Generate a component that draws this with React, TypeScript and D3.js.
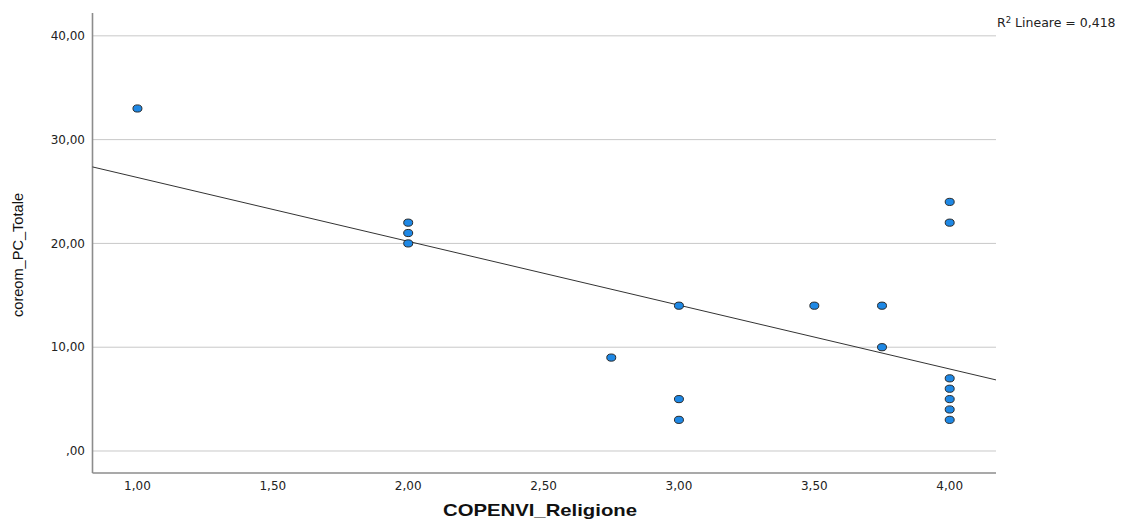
import React from "react";
import * as d3 from "d3";

// COPENVI_Religione vs coreom_PC_Totale
const xVals = [1, 2, 2, 2, 2.75, 3, 3, 3, 3.5, 3.75, 3.75, 4, 4, 4, 4, 4, 4, 4];
const yVals = [33, 22, 21, 20, 9, 14, 5, 3, 14, 14, 10, 24, 22, 7, 6, 5, 4, 3];
const xTicks = [1, 1.5, 2, 2.5, 3, 3.5, 4];
const yTicks = [0, 10, 20, 30, 40];
// linear fit
const fitIntercept = 32.5;
const fitSlope = -6.15;
const r2Label = "0,418";

const W = 1124;
const H = 528;
const plot = { left: 92.5, right: 996, top: 13, bottom: 473 };
const sans = "'DejaVu Sans', Verdana, sans-serif";
const arial = "'Liberation Sans', Arial, sans-serif";

const fmt = (v: number) => {
  const s = v.toFixed(2).replace(".", ",");
  return s.startsWith("0,") ? s.slice(1) : s;
};

export default function App() {
  const x = d3.scaleLinear().domain([0.834, 4.171]).range([plot.left, plot.right]);
  const y = d3.scaleLinear().domain([-2.12, 42.2]).range([plot.bottom, plot.top]);
  const [x0, x1] = x.domain();
  const fitLine = d3.line<number>()
    .x((d) => x(d))
    .y((d) => y(fitIntercept + fitSlope * d))([x0, x1]);

  return (
    <svg
      width={W}
      height={H}
      style={{ position: "absolute", left: 0, top: 0, fontFamily: sans }}
    >
      <rect width={W} height={H} fill="#fff" />
      {yTicks.map((t) => (
        <g key={t}>
          <line x1={plot.left} x2={plot.right} y1={y(t)} y2={y(t)} stroke="#c8c8c8" strokeWidth={1} />
          <text x={85} y={y(t)} dy="0.35em" textAnchor="end" fontSize={12} fill="#222">
            {fmt(t)}
          </text>
        </g>
      ))}
      {xTicks.map((t) => (
        <text key={t} x={x(t)} y={490} textAnchor="middle" fontSize={12} fill="#222">
          {fmt(t)}
        </text>
      ))}
      <line x1={plot.left} x2={plot.left} y1={plot.top} y2={plot.bottom} stroke="#8c8c8c" strokeWidth={1.6} />
      <line x1={plot.left} x2={plot.right} y1={plot.bottom} y2={plot.bottom} stroke="#8c8c8c" strokeWidth={1.6} />
      <path d={fitLine || ""} fill="none" stroke="#333" strokeWidth={1} />
      {xVals.map((v, i) => (
        <ellipse
          key={i}
          cx={x(v)}
          cy={y(yVals[i])}
          rx={4.5}
          ry={3.6}
          fill="#1e88e5"
          stroke="#2a2a2a"
          strokeWidth={1}
        />
      ))}
      <text x={997} y={27} fontSize={12.5} fill="#222">
        R<tspan dy={-4} fontSize={8.5}>2</tspan>
        <tspan dy={4}> Lineare = {r2Label}</tspan>
      </text>
      <text
        transform={`translate(23,255) rotate(-90)`}
        textAnchor="middle"
        fontSize={15}
        fill="#111"
        fontFamily={arial}
        textLength={124}
        lengthAdjust="spacingAndGlyphs"
      >
        coreom_PC_Totale
      </text>
      <text
        x={540}
        y={516}
        textAnchor="middle"
        fontSize={17}
        fontWeight="bold"
        fill="#111"
        fontFamily={arial}
        textLength={194}
        lengthAdjust="spacingAndGlyphs"
      >
        COPENVI_Religione
      </text>
    </svg>
  );
}
